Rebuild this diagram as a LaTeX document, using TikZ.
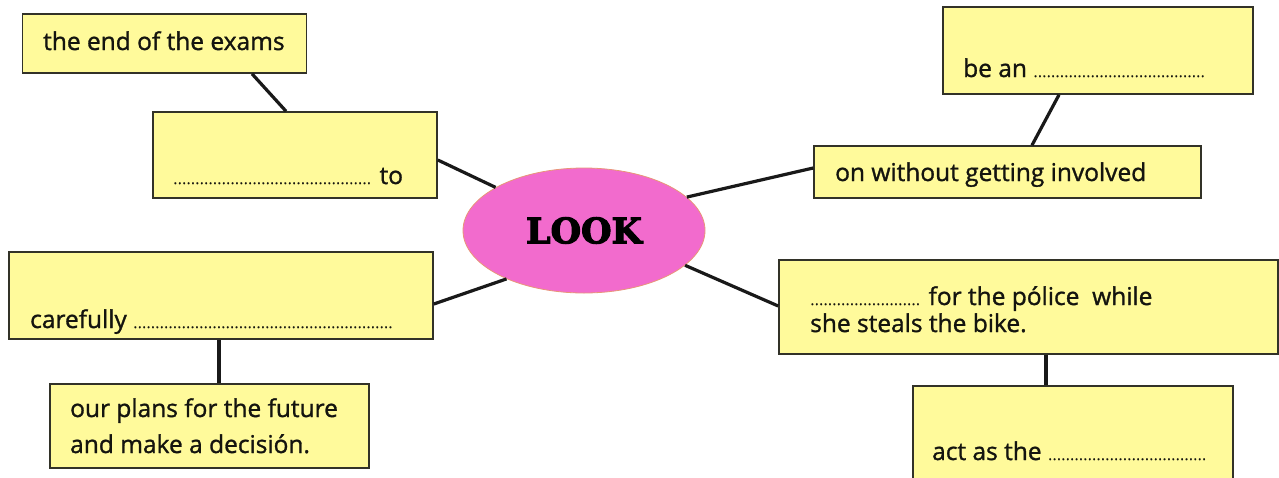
\documentclass[tikz,border=0pt]{standalone}
\usepackage{fontspec}
\setmainfont{Open Sans}
\newfontfamily\handfont{Open Sans}[FakeBold=1.2]
\newfontfamily\lookfont{DejaVu Serif}[FakeBold=3]
\usetikzlibrary{calc,shapes.geometric}
\definecolor{boxfill}{RGB}{255,250,155}
\definecolor{boxline}{RGB}{50,50,40}
\definecolor{textc}{RGB}{20,20,15}
\definecolor{pinkfill}{RGB}{242,107,205}
\definecolor{pinkline}{RGB}{232,150,120}
\newcommand\myblank[1]{\hbox to #1{\fontsize{14}{14}\selectfont\leaders\hbox to 4.4pt{\hss.\hss}\hfill}}
\begin{document}
\begin{tikzpicture}[x=1pt,y=-1pt,
  box/.style={draw=boxline, line width=1.6pt, fill=boxfill, inner sep=0pt, rectangle},
  conn/.style={line width=3.2pt, draw=black!90},
  txt/.style={anchor=base west, inner sep=0pt, text=textc, align=left, font=\handfont\fontsize{24.5}{36}\selectfont}]
\clip (0,0) rectangle (1279,477);
\fill[white] (0,0) rectangle (1279,477);
% boxes
\node[box, minimum width=284, minimum height=59] (b1) at (164.5,43.5) {};
\node[box, minimum width=284, minimum height=86] (b2) at (295,155) {};
\node[box, minimum width=310, minimum height=87] (b5) at (1098,50.5) {};
\node[box, minimum width=387, minimum height=52] (b4) at (1007.5,172) {};
\node[box, minimum width=424, minimum height=87] (b6) at (221,295.5) {};
\node[box, minimum width=319, minimum height=84] (b7) at (209.5,426) {};
\node[box, minimum width=499, minimum height=94] (b8) at (1028.5,307) {};
\node[box, minimum width=320, minimum height=114] (b9) at (1073,443) {};
% centre
\node[ellipse, draw=pinkline, line width=0.8pt, fill=pinkfill, minimum width=242, minimum height=125, inner sep=0pt,
      font=\lookfont\bfseries\fontsize{35}{35}\selectfont, text=black] (e) at (584,230.5) {LOOK};
% texts
\node[txt] (t1) at (43,50) {the end of the exams};
\node[txt] (t2) at (173,184) {\myblank{200pt} to};
\node[txt] (t5) at (963,77) {be an \myblank{173pt}};
\node[txt] (t4) at (835,181) {on without getting involved};
\node[txt] (t6) at (30,328) {carefully \myblank{262pt}};
\node[txt] (t7) at (70,453) {our plans for the future\\and make a decisión.};
\node[txt] (t8) at (810,332) {\myblank{112pt} for the pólice\ \ while\\[-9pt]she steals the bike.};
\node[txt] (t9) at (932,460) {act as the \myblank{159pt}};
% connectors
\draw[conn] ($(b1.south)+(87.5,0)$) -- ($(b2.north)+(-9,0)$);
\draw[conn] ($(b2.east)+(0,5)$) -- (e.154);
\draw[conn] (e.18.4) -- ($(b4.west)+(0,-4)$);
\draw[conn] ($(b5.south)+(-39,0)$) -- ($(b4.north)+(24.5,0)$);
\draw[conn] (e.212) -- ($(b6.east)+(0,8.5)$);
\draw[conn] (e.-19.3) -- ($(b8.west)+(0,-1)$);
\draw[conn] ($(b6.south)+(-2,0)$) -- ($(b7.north)+(9.5,0)$);
\draw[conn] ($(b8.south)+(17.5,0)$) -- ($(b9.north)+(-27,0)$);
\end{tikzpicture}
\end{document}
